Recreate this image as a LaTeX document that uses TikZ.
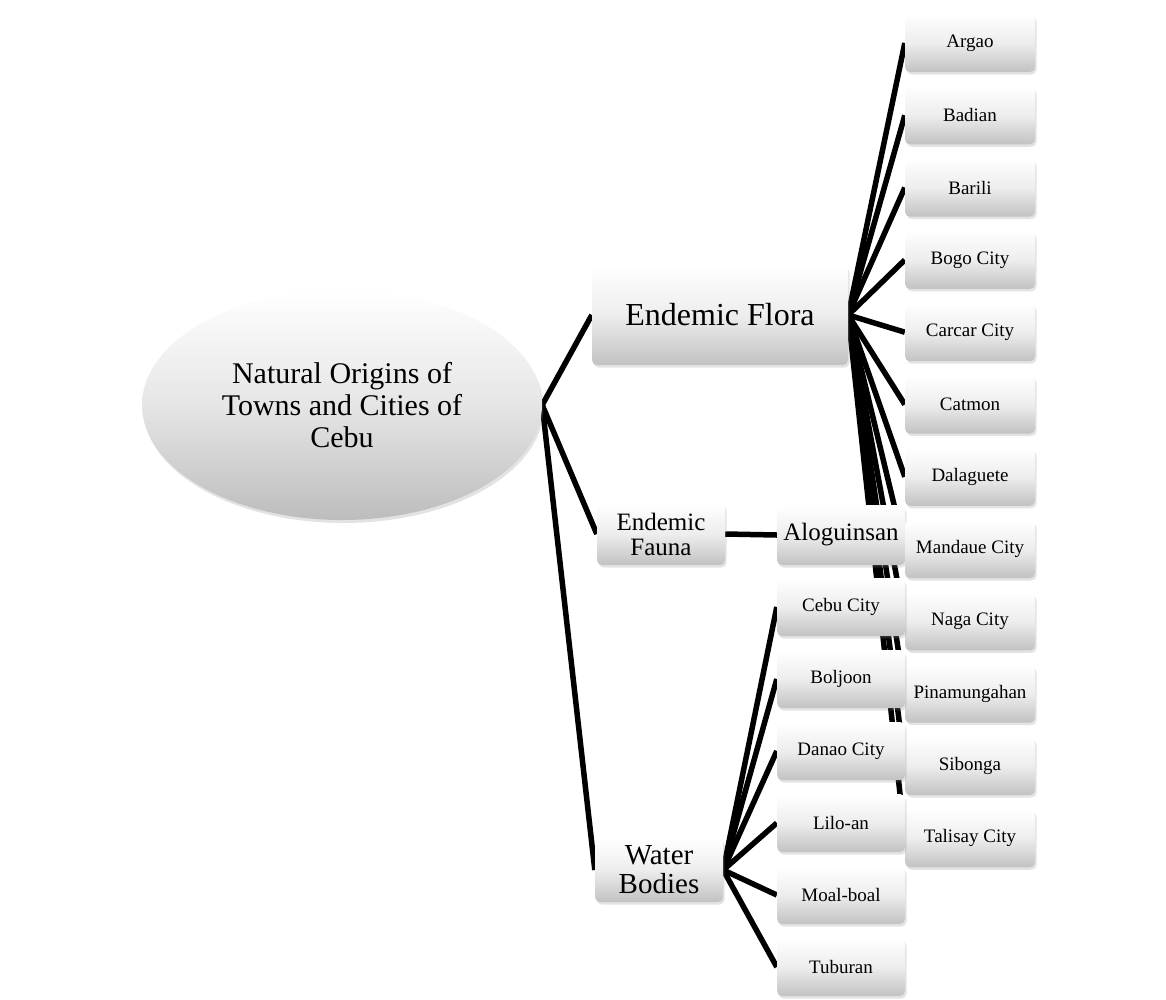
\documentclass[tikz,border=0pt]{standalone}
\usepackage{fontspec}
\setmainfont{Liberation Serif}
\usetikzlibrary{shapes.geometric,shadows}
\pgfdeclarelayer{bg}
\pgfsetlayers{bg,main}
\begin{document}
\begin{tikzpicture}[x=1pt,y=-1pt,
  box/.style={draw=none, rounded corners=5pt, top color=white, bottom color=black!24,
    middle color=black!7,
    drop shadow={opacity=0.22,shadow xshift=1.5pt,shadow yshift=-2.5pt},
    inner sep=0pt, align=center, text=black},
  small/.style={box, minimum width=130pt, minimum height=58pt, font=\fontsize{19}{21}\selectfont},
  link/.style={line width=5.5pt, black}]
\useasboundingbox (0,0) rectangle (1166,999);

\node[ellipse, draw=none, top color=white, bottom color=black!26, middle color=black!10,
  drop shadow={opacity=0.22,shadow xshift=1.5pt,shadow yshift=-3pt},
  minimum width=400pt, minimum height=230pt, inner sep=0pt, align=center,
  font=\fontsize{30}{32}\selectfont] (root) at (342,405)
  {Natural Origins of\\Towns and Cities of\\Cebu};

\node[box, minimum width=256pt, minimum height=100pt, font=\fontsize{32}{36}\selectfont] (flora) at (720,315) {Endemic Flora};
\node[box, minimum width=128pt, minimum height=62pt, font=\fontsize{25}{25}\selectfont] (fauna) at (661,534) {Endemic\\Fauna};
\node[box, minimum width=128pt, minimum height=60pt, font=\fontsize{25}{27}\selectfont] (alog) at (841,535) {Aloguinsan};
\node[box, minimum width=128pt, minimum height=64pt, font=\fontsize{29}{29}\selectfont] (water) at (659,870) {Water\\Bodies};

\foreach \n/\t [count=\i from 0] in {argao/Argao, badian/Badian, barili/Barili, bogo/Bogo City,
  carcar/Carcar City, catmon/Catmon, dalaguete/Dalaguete, mandaue/Mandaue City,
  naga/Naga City, pinamungahan/Pinamungahan, sibonga/Sibonga, talisay/Talisay City}
  \node[small] (\n) at (970,{43+72.3*\i}) {\t};

\foreach \n/\t [count=\i from 0] in {cebu/Cebu City, boljoon/Boljoon, danao/Danao City,
  liloan/Lilo-an, moalboal/Moal-boal, tuburan/Tuburan}
  \node[small, minimum width=128pt] (\n) at (841,{607+72*\i}) {\t};

\begin{pgfonlayer}{bg}
  \draw[link] (root.east) -- (flora.west);
  \draw[link] (root.east) -- (fauna.west);
  \draw[link] (root.east) -- (water.west);
  \draw[link] (fauna.east) -- (alog.west);
  \foreach \n in {argao,badian,barili,bogo,carcar,catmon,dalaguete,mandaue,naga,pinamungahan,sibonga,talisay}
    \draw[link] (flora.east) -- (\n.west);
  \foreach \n in {cebu,boljoon,danao,liloan,moalboal,tuburan}
    \draw[link] (water.east) -- (\n.west);
\end{pgfonlayer}
\end{tikzpicture}
\end{document}
